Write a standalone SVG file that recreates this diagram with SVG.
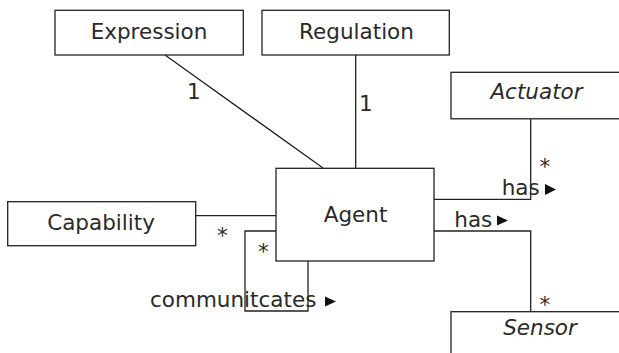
<svg xmlns="http://www.w3.org/2000/svg" width="619" height="353" viewBox="0 0 619 353">
<style>
.box{fill:#fff;stroke:#222;stroke-width:1.3}
.t{font-family:"DejaVu Sans",sans-serif;font-size:21.5px;fill:#2a2a2a}
.c{text-anchor:middle}
.i{font-style:italic}
.ln{fill:none;stroke:#222;stroke-width:1.3}
.tri{fill:#111}
</style>
<rect width="619" height="353" fill="#fff"/>
<g id="connectors">
<line class="ln" x1="165" y1="55" x2="323" y2="168"/>
<line class="ln" x1="355.7" y1="55" x2="355.7" y2="168"/>
<line class="ln" x1="196" y1="215.7" x2="276" y2="215.7"/>
<polyline class="ln" points="276,231 245,231 245,311 308,311 308,261"/>
<polyline class="ln" points="434,199.3 530.7,199.3 530.7,119"/>
<polyline class="ln" points="434,231 530.7,231 530.7,311.7"/>
<text class="t" x="187" y="99">1</text>
<text class="t" x="359" y="110.7">1</text>
<text class="t" x="217" y="243">*</text>
<text class="t" x="258" y="259">*</text>
<text class="t" x="539.5" y="173.5">*</text>
<text class="t" x="539.5" y="312">*</text>
<text class="t" x="501.7" y="195">has</text>
<polygon class="tri" points="545,184 556,189.5 545,195"/>
<text class="t" x="454.3" y="226.7">has</text>
<polygon class="tri" points="497,215.5 508,220.5 497,225.5"/>
<text class="t" x="150" y="306.7">communitcates</text>
<polygon class="tri" points="325,296.5 336,301.5 325,306.5"/>
</g>
<g id="expression">
<rect class="box" x="55" y="10.3" width="188.3" height="44.7"/>
<text class="t c" x="149" y="38.7">Expression</text>
</g>
<g id="regulation">
<rect class="box" x="262" y="10.3" width="187.3" height="44.7"/>
<text class="t c" x="356.5" y="38.7">Regulation</text>
</g>
<g id="actuator">
<rect class="box" x="451" y="72.3" width="175" height="46.5"/>
<text class="t c i" x="536.5" y="98.5">Actuator</text>
</g>
<g id="agent">
<rect class="box" x="276" y="168.3" width="158" height="92.7"/>
<text class="t c" x="355.5" y="222.3">Agent</text>
</g>
<g id="capability">
<rect class="box" x="7.7" y="201.7" width="188" height="44"/>
<text class="t c" x="101" y="230">Capability</text>
</g>
<g id="sensor">
<rect class="box" x="451" y="311.7" width="175" height="50"/>
<text class="t c i" x="540" y="335">Sensor</text>
</g>
</svg>
